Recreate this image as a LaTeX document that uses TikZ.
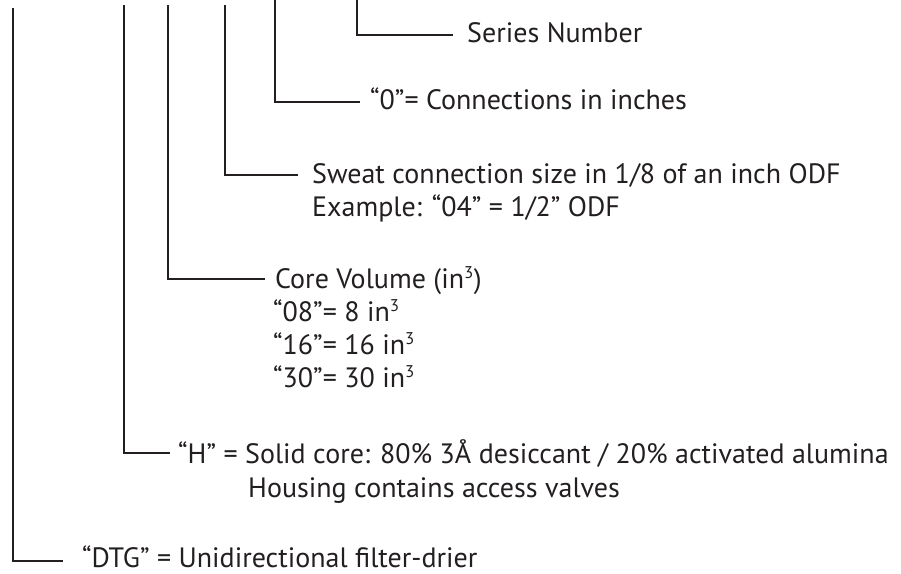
\documentclass[tikz,border=0pt]{standalone}
\usepackage{fontspec}
\setmainfont{PT Sans}
\definecolor{ink}{HTML}{231F20}
\tikzset{
  lead/.style={draw=ink, line width=2.2pt},
  lbl/.style={anchor=base west, inner sep=0pt, text=ink, font=\fontsize{28}{32}\selectfont},
}
\newcommand{\cube}{\textsuperscript{\fontsize{17}{17}\selectfont 3}}
\begin{document}
\begin{tikzpicture}[x=1pt,y=-1pt]
\useasboundingbox (0,0) rectangle (901,573);
% free ends of the leaders
\coordinate (tA) at (13,8);   \coordinate (eA) at (63,561);
\coordinate (tB) at (124,5);  \coordinate (eB) at (170,453);
\coordinate (tC) at (168,5);  \coordinate (eC) at (265,279);
\coordinate (tD) at (225,5);  \coordinate (eD) at (298,175);
\coordinate (tE) at (275,0);  \coordinate (eE) at (360,102);
\coordinate (tF) at (357,0);  \coordinate (eF) at (453,35);
% texts
\node[lbl] (nF) at (467,42) {Series Number};
\node[lbl] (nE) at (370,109) {“0”= Connections in inches};
\node[lbl] (nD1) at (312,183) {Sweat connection size in 1/8 of an inch ODF};
\node[lbl] (nD2) at (312,216) {Example: “04” = 1/2” ODF};
\node[lbl] (nC1) at (275,288) {Core Volume (in\cube)};
\node[lbl] (nC2) at (273,321) {“08”= 8 in\cube};
\node[lbl] (nC3) at (273,354) {“16”= 16 in\cube};
\node[lbl] (nC4) at (273,387) {“30”= 30 in\cube};
\node[lbl] (nB1) at (178,463) {“H” = Solid core: 80\% 3Å desiccant / 20\% activated alumina};
\node[lbl] (nB2) at (248,497) {Housing contains access valves};
\node[lbl] (nA) at (82,567) {“DTG” = Unidirectional filter-drier};
% leaders
\draw[lead] (tA) |- (eA);
\draw[lead] (tB) |- (eB);
\draw[lead] (tC) |- (eC);
\draw[lead] (tD) |- (eD);
\draw[lead] (tE) |- (eE);
\draw[lead] (tF) |- (eF);
\end{tikzpicture}
\end{document}
